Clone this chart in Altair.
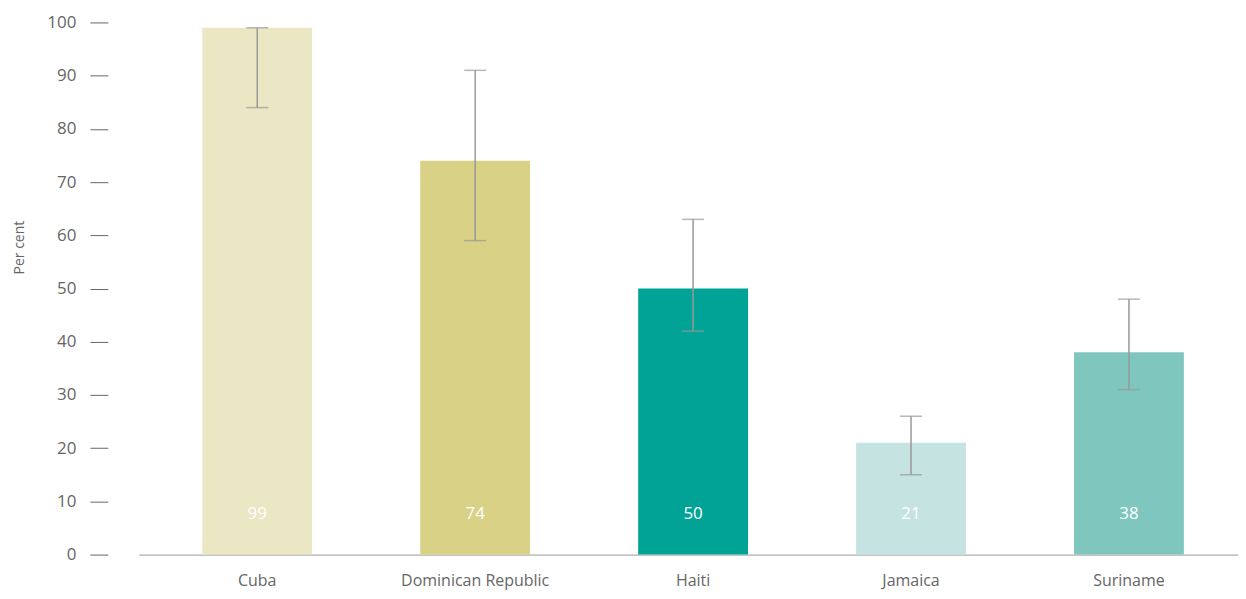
import altair as alt
import pandas as pd

countries = ["Cuba", "Dominican Republic", "Haiti", "Jamaica", "Suriname"]
values = [99, 74, 50, 21, 38]
low = [84, 59, 42, 15, 31]
high = [99, 91, 63, 26, 48]
colors = ["#EBE6C4", "#D8D186", "#00A396", "#C5E4E1", "#7FC6BF"]

df = pd.DataFrame({"country": countries, "value": values, "low": low, "high": high})

FONT = "Open Sans"
x = alt.X("country:N", sort=countries, title=None,
          scale=alt.Scale(paddingInner=0.496, paddingOuter=0.27, align=0.54),
          axis=alt.Axis(labelAngle=0, ticks=False, domain=True, domainColor="#999999",
                        domainWidth=1, labelFontSize=16, labelColor="#666666",
                        labelPadding=18, labelFont=FONT))
yscale = alt.Scale(domain=[0, 100])

bars = alt.Chart(df).mark_bar().encode(
    x=x,
    y=alt.Y("value:Q", scale=yscale, title="Per cent",
            axis=alt.Axis(values=list(range(0, 101, 10)), grid=False, domain=False,
                          offset=31, tickSize=18, tickColor="#666666", tickWidth=1,
                          labelPadding=14, labelFontSize=17, labelColor="#666666",
                          labelFont=FONT, titleFont=FONT, titleFontSize=14,
                          titleFontWeight="normal", titleColor="#666666", titlePadding=20,
                          titleY=225)),
    color=alt.Color("country:N", scale=alt.Scale(domain=countries, range=colors), legend=None),
)

rules = alt.Chart(df).mark_rule(color="#999999", strokeWidth=1.5).encode(
    x=alt.X("country:N", sort=countries), y="low:Q", y2="high:Q")
caps_low = alt.Chart(df).mark_tick(color="#999999", thickness=1.5, size=22).encode(
    x=alt.X("country:N", sort=countries), y="low:Q")
caps_high = alt.Chart(df).mark_tick(color="#999999", thickness=1.5, size=22).encode(
    x=alt.X("country:N", sort=countries), y="high:Q")

labels = alt.Chart(df).mark_text(color="white", fontSize=17, font=FONT, baseline="middle").encode(
    x=alt.X("country:N", sort=countries), y=alt.YDatum(7.7), text="value:Q")

chart = alt.layer(bars, rules, caps_low, caps_high, labels).properties(
    width=1101, height=533,
    autosize=alt.AutoSizeParams(type="none"),
    padding={"left": 131, "top": 14, "right": 0, "bottom": 36},
).configure_view(stroke=None)

chart.save("out.html", embed_options={"renderer": "svg", "actions": False})
